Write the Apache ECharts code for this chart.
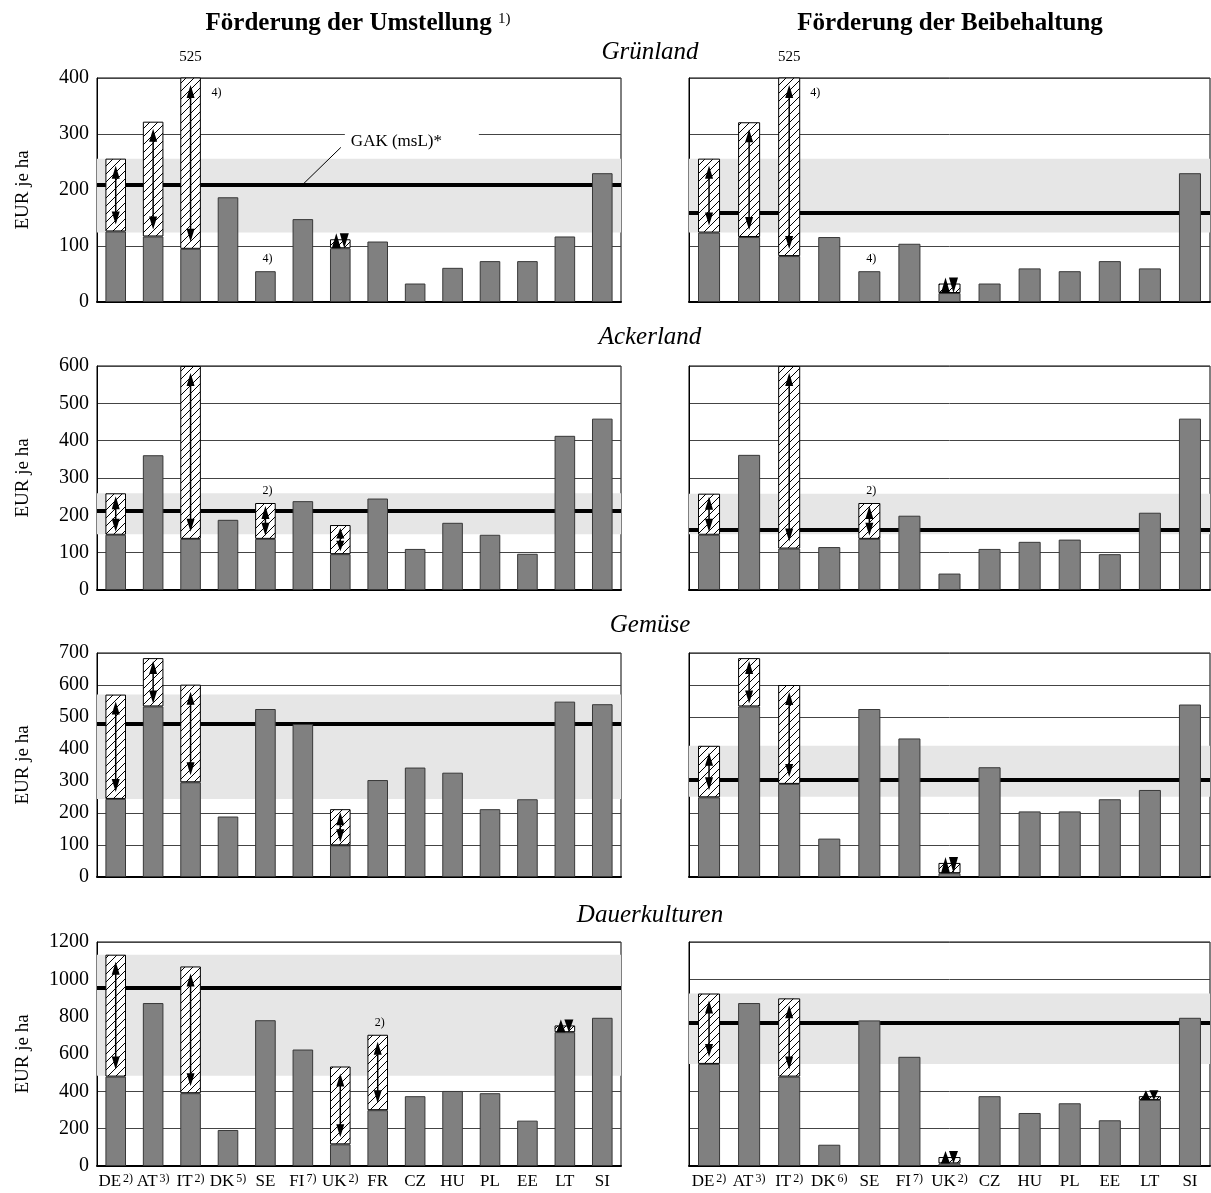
<!DOCTYPE html>
<html><head><meta charset="utf-8">
<script src="https://cdn.jsdelivr.net/npm/echarts@6/dist/echarts.min.js"></script>
<style>html,body{margin:0;padding:0;background:#fff}#c{width:1211px;height:1193px}</style>
</head><body><div id="c"></div>
<script>
// ---------- categories ----------
const catsL = ['DE','AT','IT','DK','SE','FI','UK','FR','CZ','HU','PL','EE','LT','SI'];
const supL  = ['2)','3)','2)','5)','','7)','2)','','','','','','',''];
const catsR = ['DE','AT','IT','DK','SE','FI','UK','CZ','HU','PL','EE','LT','SI'];
const supR  = ['2)','3)','2)','6)','','7)','2)','','','','','',''];

// ---------- axes per row ----------
const rowTitles = ['Grünland','Ackerland','Gemüse','Dauerkulturen'];
const yMaxRow = [400, 600, 700, 1200];
const yStepRow = [100, 100, 100, 200];

// ---------- Grünland ----------
const gruenUmstMin = [126,117,95,187,55,148,96,108,33,61,73,73,117,230];
const gruenUmstMax = [256,322,525,null,null,null,112,null,null,null,null,null,null,null];
const gruenUmstBand = [124,256];
const gruenUmstGak = 210;
const gruenUmstNotes = [['IT','4)','side'],['SE','4)','top']];
const gruenBeibMin = [124,116,82,116,55,104,16,33,60,55,73,60,230];
const gruenBeibMax = [256,321,525,null,null,null,33,null,null,null,null,null,null];
const gruenBeibBand = [124,256];
const gruenBeibGak = 160;
const gruenBeibNotes = [['IT','4)','side'],['SE','4)','top']];

// ---------- Ackerland ----------
const ackerUmstMin = [148,361,137,188,137,238,96,245,110,180,148,97,413,459];
const ackerUmstMax = [259,null,600,null,233,null,174,null,null,null,null,null,null,null];
const ackerUmstBand = [149,259];
const ackerUmstGak = 213;
const ackerUmstNotes = [['SE','2)','top']];
const ackerBeibMin = [148,362,111,115,137,199,44,110,129,135,96,207,459];
const ackerBeibMax = [258,null,600,null,233,null,null,null,null,null,null,null,null];
const ackerBeibBand = [149,258];
const ackerBeibGak = 162;
const ackerBeibNotes = [['SE','2)','top']];

// ---------- Gemüse ----------
const gemUmstMin = [244,533,296,189,525,478,99,303,342,326,212,243,548,540];
const gemUmstMax = [570,684,601,null,null,null,212,null,null,null,null,null,null,null];
const gemUmstBand = [244,570];
const gemUmstGak = 480;
const gemUmstNotes = [];
const gemBeibMin = [249,533,291,120,525,433,12,343,205,205,243,272,539];
const gemBeibMax = [410,684,600,null,null,null,44,null,null,null,null,null,null];
const gemBeibBand = [251,410];
const gemBeibGak = 303;
const gemBeibNotes = [];

// ---------- Dauerkulturen ----------
const dauUmstMin = [479,873,390,193,781,624,116,299,374,402,390,243,717,794];
const dauUmstMax = [1132,null,1069,null,null,null,533,703,null,null,null,null,753,null];
const dauUmstBand = [483,1132];
const dauUmstGak = 953;
const dauUmstNotes = [['FR','2)','top']];
const dauBeibMin = [547,873,479,114,780,585,14,374,284,336,245,354,794];
const dauBeibMax = [924,null,898,null,null,null,48,null,null,null,null,374,null];
const dauBeibBand = [547,924];
const dauBeibGak = 769;
const dauBeibNotes = [];

// ---------- assemble ----------
const FONT = '"Liberation Serif","Times New Roman",serif';
const panels = [
  {row:0, side:0, min:gruenUmstMin, max:gruenUmstMax, band:gruenUmstBand, gak:gruenUmstGak, notes:gruenUmstNotes},
  {row:0, side:1, min:gruenBeibMin, max:gruenBeibMax, band:gruenBeibBand, gak:gruenBeibGak, notes:gruenBeibNotes},
  {row:1, side:0, min:ackerUmstMin, max:ackerUmstMax, band:ackerUmstBand, gak:ackerUmstGak, notes:ackerUmstNotes},
  {row:1, side:1, min:ackerBeibMin, max:ackerBeibMax, band:ackerBeibBand, gak:ackerBeibGak, notes:ackerBeibNotes},
  {row:2, side:0, min:gemUmstMin, max:gemUmstMax, band:gemUmstBand, gak:gemUmstGak, notes:gemUmstNotes},
  {row:2, side:1, min:gemBeibMin, max:gemBeibMax, band:gemBeibBand, gak:gemBeibGak, notes:gemBeibNotes},
  {row:3, side:0, min:dauUmstMin, max:dauUmstMax, band:dauUmstBand, gak:dauUmstGak, notes:dauUmstNotes},
  {row:3, side:1, min:dauBeibMin, max:dauBeibMax, band:dauBeibBand, gak:dauBeibGak, notes:dauBeibNotes}
];

const rowTop = [78, 366, 653, 942];
const PLOT_H = 224;
const sideLeft = [97, 689];
const sideWidth = [524, 521];

function hatchCanvas() {
  const c = document.createElement('canvas');
  c.width = 8; c.height = 8;
  const g = c.getContext('2d');
  g.fillStyle = '#fff'; g.fillRect(0,0,8,8);
  g.strokeStyle = '#000'; g.lineWidth = 1;
  g.beginPath();
  g.moveTo(0,8); g.lineTo(8,0);
  g.moveTo(-1,1); g.lineTo(1,-1);
  g.moveTo(7,9); g.lineTo(9,7);
  g.stroke();
  return c;
}
const hatch = {image: hatchCanvas(), repeat: 'repeat'};

const grids = [], xAxes = [], yAxes = [], series = [];
panels.forEach((p, k) => {
  const cats = p.side === 0 ? catsL : catsR;
  const sups = p.side === 0 ? supL : supR;
  const yMax = yMaxRow[p.row];
  grids.push({left: sideLeft[p.side], width: sideWidth[p.side], top: rowTop[p.row], height: PLOT_H,
    show: true, borderColor: '#000', borderWidth: 1, backgroundColor: 'transparent'});
  xAxes.push({type: 'category', gridIndex: k, data: cats,
    axisLine: {show: true, lineStyle: {color: '#000', width: 2}},
    axisTick: {show: false},
    axisLabel: {show: p.row === 3, interval: 0, margin: 7, color: '#000', fontFamily: FONT, fontSize: 17,
      formatter: (v, i) => sups[i] ? v + '{s|' + sups[i] + '}' : v,
      rich: {s: {fontSize: 12, fontFamily: FONT, color: '#000', verticalAlign: 'top', padding: [0,0,0,2]}}},
    splitLine: {show: false}});
  yAxes.push({type: 'value', gridIndex: k, min: 0, max: yMax, interval: yStepRow[p.row],
    name: p.side === 0 ? 'EUR je ha' : '', nameLocation: 'middle', nameGap: 64,
    nameTextStyle: {fontFamily: FONT, fontSize: 19, color: '#000'},
    axisLine: {show: true, lineStyle: {color: '#000', width: 1}},
    axisTick: {show: false},
    axisLabel: {show: p.side === 0, color: '#000', fontFamily: FONT, fontSize: 20, margin: 8,
      formatter: v => String(v)},
    splitLine: {show: true, lineStyle: {color: '#444', width: 1}}});
  series.push({type: 'bar', xAxisIndex: k, yAxisIndex: k, stack: 's' + k, barWidth: '55%', z: 10,
    data: p.min, silent: true,
    itemStyle: {color: '#808080', borderColor: '#383838', borderWidth: 1},
    markArea: {silent: true, z: 1, itemStyle: {color: '#e6e6e6'}, data: [[{yAxis: p.band[0]}, {yAxis: p.band[1]}]]},
    markLine: {silent: true, z: 5, symbol: 'none', label: {show: false},
      lineStyle: {color: '#000', width: 4, type: 'solid'}, data: [{yAxis: p.gak}]}});
  series.push({type: 'bar', xAxisIndex: k, yAxisIndex: k, stack: 's' + k, barWidth: '55%', z: 10, silent: true,
    data: p.min.map((v, i) => p.max[i] == null ? '-' : p.max[i] - v),
    itemStyle: {color: hatch, borderColor: '#000', borderWidth: 1}});
  const arrowData = [];
  p.min.forEach((v, i) => { if (p.max[i] != null) arrowData.push([i, v, p.max[i]]); });
  series.push({type: 'custom', xAxisIndex: k, yAxisIndex: k, z: 12, silent: true, data: arrowData,
    renderItem: (params, api) => {
      const idx = api.value(0), lo = api.value(1), hi = Math.min(api.value(2), yMax);
      const pLo = api.coord([idx, lo]), pHi = api.coord([idx, hi]);
      const x = pLo[0], yLo = pLo[1], yHi = pHi[1];
      const h = yLo - yHi;
      const children = [];
      if (h >= 20) {
        const inset = h > 50 ? 7 : 3;
        const top = yHi + inset, bot = yLo - inset;
        const hl = Math.min(13, (bot - top) / 2.2), hw = 4;
        children.push({type: 'line', shape: {x1: x, y1: top + hl - 1, x2: x, y2: bot - hl + 1}, style: {stroke: '#000', lineWidth: 1.5}});
        children.push({type: 'polygon', shape: {points: [[x, top], [x - hw, top + hl], [x + hw, top + hl]]}, style: {fill: '#000'}});
        children.push({type: 'polygon', shape: {points: [[x, bot], [x - hw, bot - hl], [x + hw, bot - hl]]}, style: {fill: '#000'}});
      } else {
        const t = yHi - 6;
        children.push({type: 'polygon', shape: {points: [[x - 4, t], [x - 8.5, yLo], [x + 0.5, yLo]]}, style: {fill: '#000'}});
        children.push({type: 'polygon', shape: {points: [[x + 4, yLo], [x - 0.5, t], [x + 8.5, t]]}, style: {fill: '#000'}});
      }
      return {type: 'group', children: children};
    }});
});

const option = {
  animation: false,
  backgroundColor: '#fff',
  grid: grids, xAxis: xAxes, yAxis: yAxes, series: series
};
const chart = echarts.init(document.getElementById('c'), null, {renderer: 'canvas'});
chart.setOption(option);

// ---------- annotations positioned through the axes ----------
const gfx = [];
function txt(x, y, text, size, opts) {
  gfx.push(Object.assign({type: 'text', z: 20, silent: true, style: Object.assign({x: x, y: y, text: text,
    fontFamily: FONT, fontSize: size, fill: '#000', textAlign: 'center', textVerticalAlign: 'middle'}, opts || {})}));
}
txt(358, 24, 'Förderung der Umstellung {s|1)}', 25, {fontWeight: 'bold',
  rich: {s: {fontSize: 15, fontWeight: 'normal', fontFamily: FONT, verticalAlign: 'top', padding: [0,0,0,0]}}});
txt(950, 24, 'Förderung der Beibehaltung', 25, {fontWeight: 'bold'});
const rowTitleY = [52, 337, 625, 915];
rowTitles.forEach((t, r) => txt(650, rowTitleY[r], t, 25, {fontStyle: 'italic'}));

panels.forEach((p, k) => {
  const cats = p.side === 0 ? catsL : catsR;
  const yMax = yMaxRow[p.row];
  const top = rowTop[p.row];
  p.min.forEach((v, i) => {
    if (p.max[i] != null && p.max[i] > yMax) {
      const pt = chart.convertToPixel({xAxisIndex: k, yAxisIndex: k}, [cats[i], yMax]);
      txt(pt[0], top - 21, String(p.max[i]), 15);
    }
  });
  p.notes.forEach(n => {
    const i = cats.indexOf(n[0]);
    const topVal = Math.min(p.max[i] != null ? p.max[i] : p.min[i], yMax);
    const pt = chart.convertToPixel({xAxisIndex: k, yAxisIndex: k}, [cats[i], topVal]);
    if (n[2] === 'side') txt(pt[0] + 21, top + 15, n[1], 12, {textAlign: 'left'});
    else txt(pt[0] + 2, pt[1] - 12, n[1], 12);
  });
});

// GAK label (first panel)
(function () {
  const p = panels[0];
  const a = chart.convertToPixel({xAxisIndex: 0, yAxisIndex: 0}, ['FI', p.gak]);
  const b = [a[0] + 38, a[1] - 37];
  gfx.push({type: 'rect', z: 6, silent: true, shape: {x: b[0] + 4, y: b[1] - 20, width: 134, height: 26}, style: {fill: '#fff'}});
  gfx.push({type: 'line', z: 20, silent: true, shape: {x1: a[0], y1: a[1], x2: b[0], y2: b[1]}, style: {stroke: '#000', lineWidth: 1}});
  txt(b[0] + 10, b[1] - 6, 'GAK (msL)*', 17, {textAlign: 'left'});
})();

chart.setOption({graphic: {elements: gfx}});
</script></body></html>
